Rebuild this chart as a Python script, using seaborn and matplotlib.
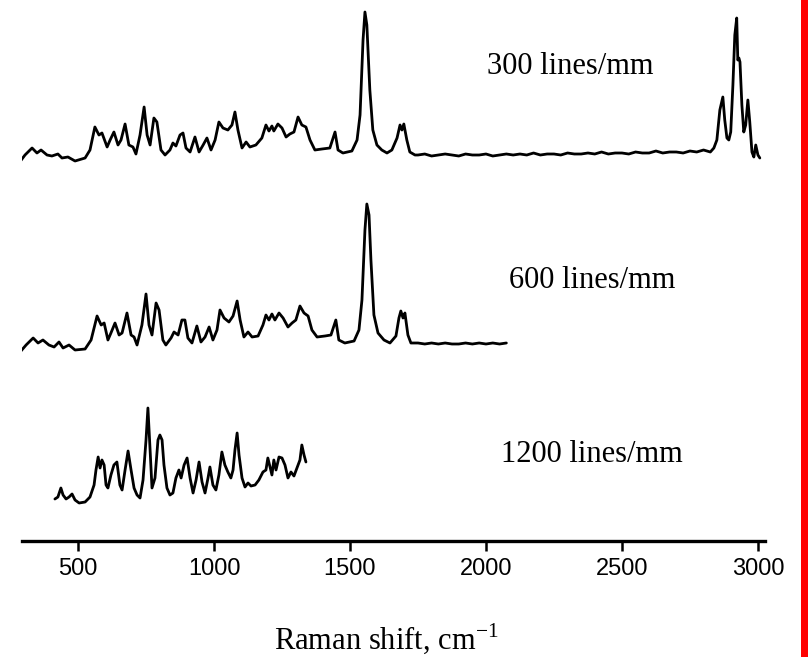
"""
Raman spectra recorded with three gratings (300 / 600 / 1200 lines/mm),
stacked with vertical offsets on a shared Raman-shift axis.
"""
import numpy as np
import pandas as pd
import matplotlib
matplotlib.use('Agg')
import matplotlib.pyplot as plt
from matplotlib.patches import Rectangle
import seaborn as sns

# ── data (Raman shift cm-1, intensity a.u. above each trace's baseline) ──
shift_300 = [283, 305, 331, 349, 364, 386, 404, 426, 441, 463, 489, 526, 544, 562, 577,
             588, 607, 618, 632, 647, 658, 673, 687, 702, 713, 728, 743, 754, 765, 779,
             790, 805, 820, 838, 849, 860, 875, 886, 897, 912, 930, 945, 960, 974, 989,
             1004, 1018, 1033, 1051, 1066, 1077, 1088, 1103, 1118, 1132, 1154, 1176, 1191,
             1202, 1213, 1220, 1235, 1250, 1265, 1279, 1294, 1309, 1323, 1338, 1353, 1371,
             1397, 1426, 1445, 1456, 1474, 1507, 1526, 1537, 1548, 1555, 1562, 1573, 1584,
             1599, 1617, 1636, 1654, 1673, 1684, 1691, 1698, 1709, 1720, 1739]
int_300 = [-3, 5, 12, 7, 10, 5, 4, 6, 2, 3, -1, 2, 10, 33, 25,
           27, 13, 20, 28, 15, 20, 36, 15, 13, 6, 25, 53, 25, 15, 42,
           38, 10, 5, 10, 17, 14, 25, 27, 12, 8, 23, 8, 15, 22, 10,
           20, 38, 32, 30, 35, 48, 30, 12, 18, 13, 15, 22, 35,
           29, 34, 29, 36, 32, 23, 26, 28, 43, 35, 33, 20, 10,
           11, 12, 28, 10, 7, 9, 20, 45, 120, 148, 135, 70, 30,
           15, 10, 7, 10, 22, 35, 30, 36, 20, 8, 5]
base_300 = [5, 6, 4, 5, 6, 5, 4, 6, 5, 5, 6, 4, 5, 6, 5, 6, 5, 7, 5, 6, 6, 5,
            7, 6, 6, 7, 6, 8, 6, 7, 7, 6, 8, 7, 7, 9, 7, 8, 8, 7, 9, 8, 10, 8]
ch_shift_300 = [2838, 2849, 2860, 2871, 2878, 2886, 2893, 2900, 2908, 2915, 2922, 2926,
                2930, 2934, 2941, 2948, 2955, 2963, 2970, 2978, 2985, 2992, 3000, 3007]
ch_int_300 = [12, 20, 50, 63, 40, 22, 20, 28, 75, 125, 142, 100,
              102, 98, 55, 28, 35, 60, 38, 8, 3, 15, 5, 2]

shift_600 = [287, 309, 335, 353, 371, 393, 412, 430, 445, 467, 489, 526, 548, 570, 585,
             596, 610, 621, 636, 651, 662, 680, 695, 706, 717, 735, 750, 761, 772, 787,
             798, 812, 823, 842, 853, 868, 882, 893, 904, 919, 937, 952, 967, 982, 996,
             1011, 1022, 1037, 1055, 1070, 1085, 1096, 1110, 1125, 1140, 1162, 1180, 1191,
             1202, 1213, 1224, 1239, 1254, 1272, 1287, 1301, 1316, 1331, 1346, 1360, 1379,
             1408, 1430, 1448, 1459, 1481, 1515, 1533, 1544, 1555, 1562, 1570, 1577, 1588,
             1603, 1625, 1647, 1669, 1680, 1687, 1695, 1702, 1713, 1724]
int_600 = [-2, 5, 12, 7, 10, 5, 3, 8, 2, 5, 0, 1, 10, 34, 25,
           27, 10, 17, 27, 15, 17, 37, 15, 13, 5, 25, 56, 25, 15, 47,
           40, 10, 5, 12, 18, 15, 30, 30, 12, 7, 24, 8, 13, 23, 10,
           20, 40, 32, 28, 34, 49, 30, 13, 18, 13, 14, 25, 35,
           30, 36, 30, 37, 32, 23, 27, 30, 44, 37, 34, 20, 13,
           14, 15, 30, 10, 7, 9, 20, 50, 120, 146, 135, 90, 35,
           17, 10, 7, 14, 32, 39, 32, 37, 15, 7]
base_600 = [7, 6, 7, 6, 7, 6, 6, 7, 6, 7, 6, 7, 6, 7]

shift_1200 = [415, 426, 437, 445, 456, 467, 478, 489, 504, 526, 544, 559, 566, 574, 581,
              588, 596, 603, 610, 621, 632, 643, 654, 662, 673, 684, 695, 706, 717, 728,
              739, 750, 757, 765, 772, 783, 794, 801, 809, 816, 827, 838, 849, 860, 871,
              879, 890, 901, 912, 923, 934, 945, 956, 967, 978, 985, 996, 1007, 1018, 1029,
              1040, 1051, 1062, 1070, 1077, 1085, 1092, 1103, 1114, 1125, 1136, 1151, 1165,
              1180, 1191, 1198, 1206, 1213, 1220, 1228, 1239, 1250, 1261, 1272, 1283, 1294,
              1305, 1316, 1323, 1331, 1338]
int_1200 = [6, 8, 17, 10, 6, 8, 11, 5, 2, 3, 8, 20, 35, 48, 37,
            45, 40, 20, 17, 30, 40, 43, 20, 15, 35, 54, 35, 17, 10, 7,
            25, 65, 97, 55, 17, 27, 65, 70, 65, 40, 17, 10, 12, 27, 35,
            27, 40, 47, 27, 12, 25, 43, 23, 12, 27, 38, 20, 15, 30, 53,
            40, 33, 27, 35, 55, 72, 50, 27, 18, 22, 19, 20, 25,
            33, 35, 47, 38, 30, 45, 35, 48, 47, 40, 27, 33, 29,
            37, 45, 60, 50, 43]

gratings = ['300 lines/mm', '600 lines/mm', '1200 lines/mm']
offsets = [381, 191, 36]

# assemble long table
x300 = shift_300 + list(np.arange(1750, 2826, 25)) + ch_shift_300
y300 = int_300 + base_300 + ch_int_300
x600 = shift_600 + list(np.arange(1750, 2076, 25))
y600 = int_600 + base_600

frames = []
for name, xs, ys, off in zip(gratings, [x300, x600, shift_1200],
                             [y300, y600, int_1200], offsets):
    assert len(xs) == len(ys), name
    frames.append(pd.DataFrame({'shift': xs, 'intensity': np.array(ys) + off,
                                'grating': name}))
df = pd.concat(frames, ignore_index=True)

# ── figure ──
sns.set_style('white')
plt.rcParams['text.color'] = 'black'
plt.rcParams['xtick.color'] = 'black'
plt.rcParams['axes.labelcolor'] = 'black'
plt.rcParams['mathtext.fontset'] = 'custom'
plt.rcParams['mathtext.rm'] = 'Liberation Serif'

fig = plt.figure(figsize=(8.08, 6.57), dpi=100)
ax = fig.add_axes([22 / 808, 1 - 541 / 657, 743 / 808, 541 / 657])

for name in gratings:
    sub = df[df['grating'] == name]
    sns.lineplot(data=sub, x='shift', y='intensity', color='black', lw=2.0,
                 estimator=None, sort=False, ax=ax)

label_pos = {'300 lines/mm': (2309, 474), '600 lines/mm': (2389, 261),
             '1200 lines/mm': (2389, 87)}
for name, (lx, ly) in label_pos.items():
    ax.text(lx, ly, name, ha='center', va='center', fontsize=22,
            family='Liberation Serif', color='black')

ax.set_xlim(294, 3026)
ax.set_ylim(0, 541)
ax.set_xticks([500, 1000, 1500, 2000, 2500, 3000])
ax.set_yticks([])
ax.set_ylabel('')
ax.spines[['top', 'right', 'left']].set_visible(False)
ax.spines['bottom'].set_linewidth(2.4)
ax.spines['bottom'].set_color('black')
ax.tick_params(axis='x', direction='out', length=7, width=1.8, pad=5,
               labelsize=17, bottom=True, colors='black')
for lbl in ax.get_xticklabels():
    lbl.set_family('Liberation Sans')
ax.set_xlabel('Raman shift, cm$^{-1}$', fontsize=22, family='Liberation Serif',
              color='black')
ax.xaxis.set_label_coords(0.49, -0.148)

fig.add_artist(Rectangle((801 / 808, 0), 7 / 808, 1, transform=fig.transFigure,
                         color='red', lw=0))

plt.savefig('out.png', dpi=100)
plt.close()
